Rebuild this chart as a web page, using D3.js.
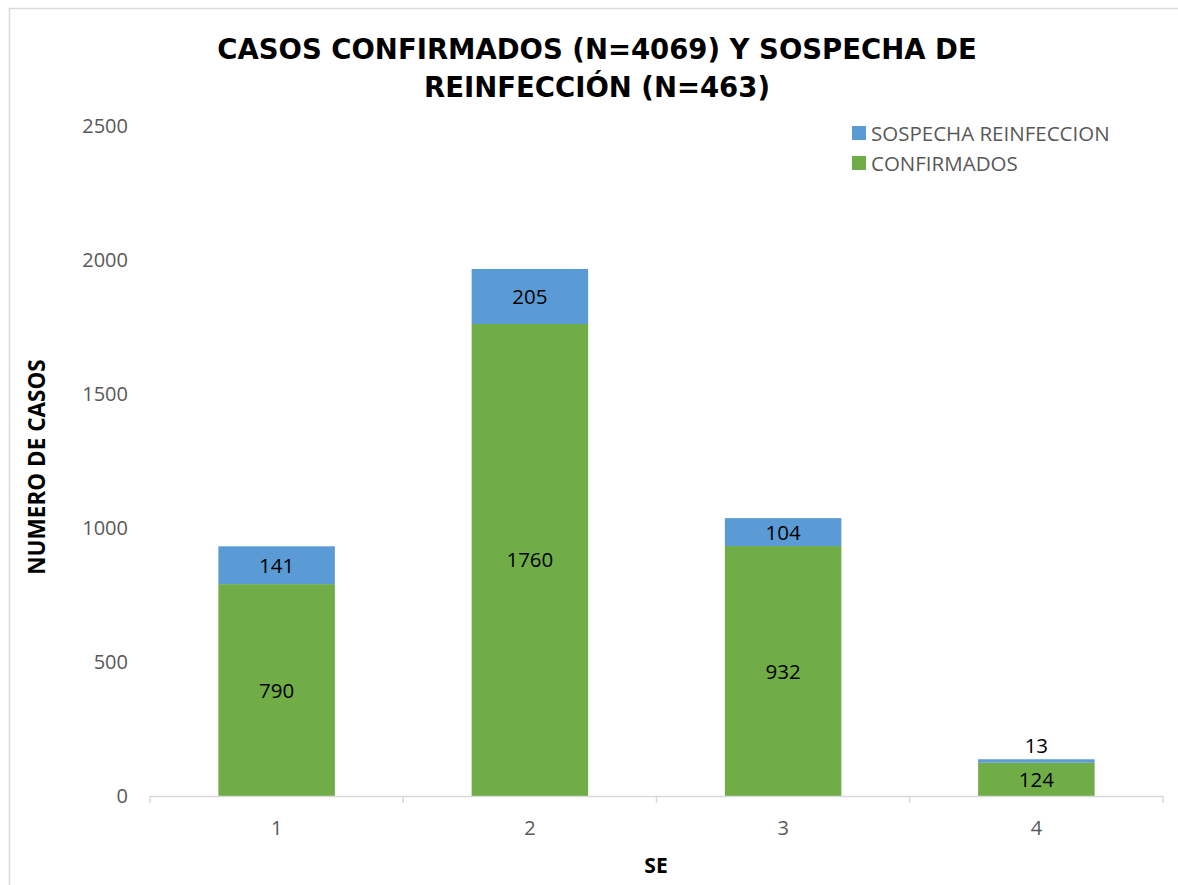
<!DOCTYPE html>
<html><head><meta charset="utf-8">
<script src="https://cdn.jsdelivr.net/npm/d3@7"></script>
<style>body{margin:0;background:#fff;} svg{display:block;}</style>
</head><body>
<svg id="c" width="1178" height="885"></svg>
<script>
const categories = ["1", "2", "3", "4"];
const confirmados = [790, 1760, 932, 124];
const reinfeccion = [141, 205, 104, 13];
const yTicks = [0, 500, 1000, 1500, 2000, 2500];
const seriesNames = ["CONFIRMADOS", "SOSPECHA REINFECCION"];
const colors = ["#70AD47", "#5B9BD5"];
const titleLines = ["CASOS CONFIRMADOS (N=4069) Y SOSPECHA DE", "REINFECCIÓN (N=463)"];

const svg = d3.select("#c");
const m = {left: 150, right: 1163, top: 125.5, bottom: 796};

// outer border
svg.append("rect").attr("x", 9.5).attr("y", 8.5).attr("width", 1200).attr("height", 1000)
  .attr("fill", "none").attr("stroke", "#d9d9d9").attr("stroke-width", 1.5);

const x = d3.scaleBand().domain(categories).range([m.left, m.right]).paddingInner(0.54).paddingOuter(0.27);
const y = d3.scaleLinear().domain([0, 2500]).range([m.bottom, m.top]);

const table = categories.map((c, i) => ({cat: c, CONFIRMADOS: confirmados[i], "SOSPECHA REINFECCION": reinfeccion[i]}));
const stack = d3.stack().keys(seriesNames)(table);

const font = "'Open Sans', 'Liberation Sans', sans-serif";

// bars
stack.forEach((s, si) => {
  svg.append("g").selectAll("rect").data(s).join("rect")
    .attr("x", d => x(d.data.cat))
    .attr("width", x.bandwidth())
    .attr("y", d => y(d[1]))
    .attr("height", d => y(d[0]) - y(d[1]))
    .attr("fill", colors[si]);
});

// x axis
const xAxisG = svg.append("g").attr("transform", `translate(0,${m.bottom})`);
const xLine = d3.scaleLinear().domain([0, categories.length]).range([m.left, m.right]);
xAxisG.append("line").attr("x1", m.left).attr("x2", m.right).attr("y1", 0.5).attr("y2", 0.5)
  .attr("stroke", "#d9d9d9").attr("stroke-width", 1.5);
xAxisG.selectAll("line.tk").data(d3.range(categories.length + 1)).join("line").attr("class", "tk")
  .attr("x1", d => xLine(d)).attr("x2", d => xLine(d)).attr("y1", 0).attr("y2", 7)
  .attr("stroke", "#d9d9d9").attr("stroke-width", 1.5);
xAxisG.selectAll("text").data(categories).join("text")
  .attr("x", d => x(d) + x.bandwidth() / 2).attr("y", 39)
  .attr("text-anchor", "middle").attr("font-family", font).attr("font-size", 20).attr("fill", "#595959")
  .text(d => d);

// y axis labels
svg.append("g").selectAll("text").data(yTicks).join("text")
  .attr("x", 128).attr("y", d => y(d) + 7)
  .attr("text-anchor", "end").attr("font-family", font).attr("font-size", 20).attr("fill", "#595959")
  .text(d => d);

// data labels
stack.forEach((s, si) => {
  svg.append("g").selectAll("text").data(s).join("text")
    .attr("x", d => x(d.data.cat) + x.bandwidth() / 2)
    .attr("y", d => {
      const h = y(d[0]) - y(d[1]);
      if (h < 20) return y(d[1]) - 6;
      return (y(d[0]) + y(d[1])) / 2 + 7.5;
    })
    .attr("text-anchor", "middle").attr("font-family", font).attr("font-size", 20.5).attr("fill", "#000")
    .text(d => d[1] - d[0]);
});

// title
svg.append("g").selectAll("text").data(titleLines).join("text")
  .attr("x", 597).attr("y", (d, i) => 59 + i * 38)
  .attr("text-anchor", "middle").attr("font-family", "'DejaVu Sans', sans-serif").attr("font-weight", "bold")
  .attr("font-size", 27.5).attr("fill", "#000")
  .text(d => d);

// axis titles
svg.append("text").attr("transform", "translate(45,467) rotate(-90)")
  .attr("text-anchor", "middle").attr("font-family", font).attr("font-weight", "bold")
  .attr("font-size", 22.5).attr("fill", "#000").text("NUMERO DE CASOS");
svg.append("text").attr("x", 656).attr("y", 873)
  .attr("text-anchor", "middle").attr("font-family", font).attr("font-weight", "bold")
  .attr("font-size", 21).attr("fill", "#000").text("SE");

// legend
const legendOrder = [1, 0];
const lg = svg.append("g");
legendOrder.forEach((si, i) => {
  lg.append("rect").attr("x", 852).attr("y", 126 + i * 30).attr("width", 14).attr("height", 14).attr("fill", colors[si]);
  lg.append("text").attr("x", 871).attr("y", 140.5 + i * 30)
    .attr("font-family", font).attr("font-size", 20.5).attr("fill", "#595959").text(seriesNames[si]);
});
</script>
</body></html>
